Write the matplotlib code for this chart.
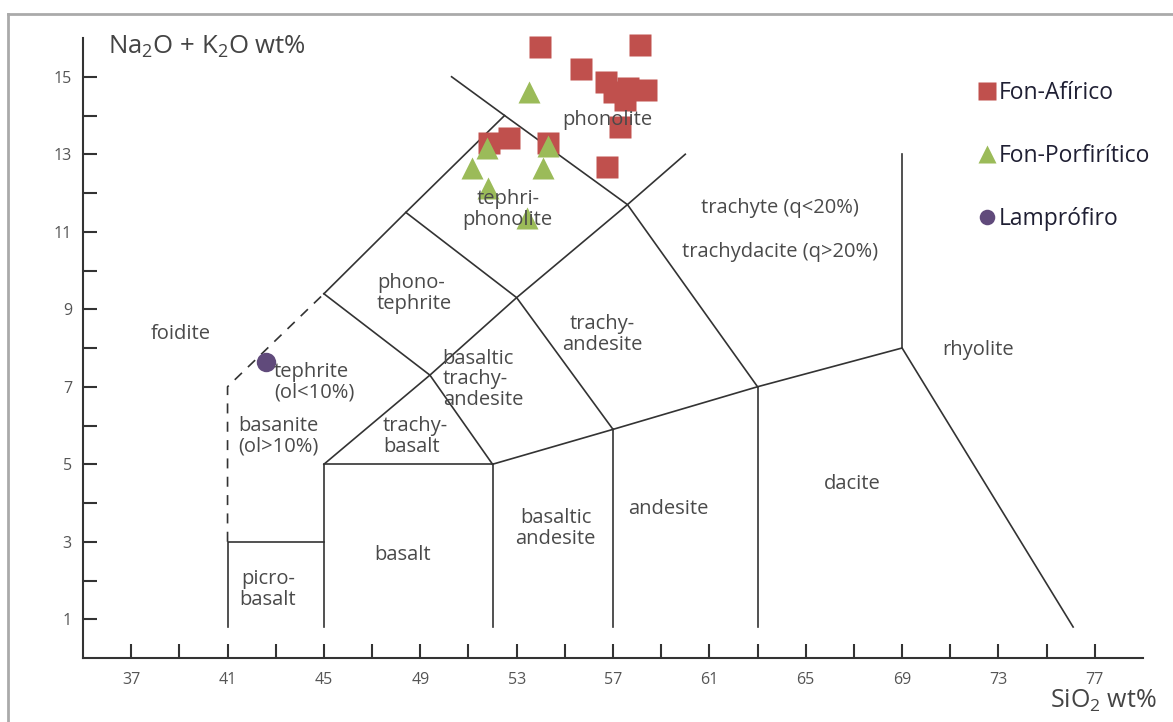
import matplotlib
matplotlib.use('Agg')
import matplotlib.pyplot as plt
from matplotlib.lines import Line2D

plt.rcParams['font.family'] = ['Open Sans', 'DejaVu Sans']
plt.rcParams['mathtext.fontset'] = 'custom'
plt.rcParams['mathtext.rm'] = 'Open Sans'
plt.rcParams['mathtext.it'] = 'Open Sans:italic'

# sample data (SiO2, Na2O+K2O)
afirico_si = [53.95, 58.14, 55.69, 56.73, 57.06, 57.48, 57.64, 58.35, 57.27, 56.77, 51.84, 52.67, 54.29]
afirico_alk = [15.77, 15.82, 15.21, 14.87, 14.61, 14.41, 14.72, 14.66, 13.71, 12.68, 13.30, 13.43, 13.30]

porf_si = [53.50, 51.76, 54.29, 51.13, 54.08, 51.80, 53.41]
porf_alk = [14.61, 13.17, 13.22, 12.65, 12.65, 12.14, 11.36]

lamp_si = [42.60]
lamp_alk = [7.65]

# TAS field boundaries (solid)
boundaries = [
    [(41, 0.8), (41, 3), (45, 3)],
    [(45, 0.8), (45, 5), (52, 5), (52, 0.8)],
    [(57, 0.8), (57, 5.9)],
    [(63, 0.8), (63, 7)],
    [(52, 5), (57, 5.9), (63, 7), (69, 8), (76.1, 0.8)],
    [(69, 8), (69, 13)],
    [(45, 5), (49.4, 7.3), (53, 9.3), (57.6, 11.7), (60.0, 13.0)],
    [(45, 9.4), (49.4, 7.3), (52, 5)],
    [(48.4, 11.5), (53, 9.3), (57, 5.9)],
    [(45, 9.4), (48.4, 11.5), (52.5, 14)],
    [(50.3, 15.0), (52.5, 14), (57.6, 11.7), (63, 7)],
]
dashed = [(41, 3), (41, 7), (45, 9.4)]

labels = [
    ('foidite', 39.07, 8.35, 'center'),
    ('tephrite\n(ol<10%)', 42.93, 7.11, 'left'),
    ('basanite\n(ol>10%)', 41.44, 5.72, 'left'),
    ('picro-\nbasalt', 42.68, 1.77, 'center'),
    ('basalt', 48.27, 2.65, 'center'),
    ('basaltic\nandesite', 54.62, 3.35, 'center'),
    ('andesite', 59.30, 3.84, 'center'),
    ('dacite', 66.93, 4.48, 'center'),
    ('rhyolite', 72.15, 7.96, 'center'),
    ('trachyte (q<20%)', 63.94, 11.62, 'center'),
    ('trachydacite (q>20%)', 63.94, 10.49, 'center'),
    ('trachy-\nandesite', 56.56, 8.35, 'center'),
    ('basaltic\ntrachy-\nandesite', 49.93, 7.19, 'left'),
    ('trachy-\nbasalt', 47.45, 5.72, 'left'),
    ('phono-\ntephrite', 47.2, 9.41, 'left'),
    ('tephri-\nphonolite', 52.63, 11.57, 'center'),
    ('phonolite', 56.77, 13.89, 'center'),
]

fig = plt.figure(figsize=(11.73, 7.22), dpi=100)
ax = fig.add_axes([83 / 1173, 1 - 658 / 722, 1060 / 1173, 620 / 722])

line_col = '#333333'
for seg in boundaries:
    xs, ys = zip(*seg)
    ax.plot(xs, ys, color=line_col, lw=1.2, solid_joinstyle='miter')
xs, ys = zip(*dashed)
ax.plot(xs, ys, color=line_col, lw=1.2, ls=(0, (6, 5)))

for txt, x, y, ha in labels:
    ax.text(x, y, txt, ha=ha, va='center', fontsize=14.5, color='#4a4a4a',
            linespacing=1.05, multialignment='left' if ha == 'left' else 'center')

ax.plot(afirico_si, afirico_alk, 's', color='#C0504D', ms=16, mec='none', label='Fon-Afírico',
        clip_on=False)
ax.plot(porf_si, porf_alk, '^', color='#9BBB59', ms=16, mec='none', label='Fon-Porfirítico',
        clip_on=False)
ax.plot(lamp_si, lamp_alk, 'o', color='#604A7B', ms=14, mec='none', label='Lamprófiro',
        clip_on=False)

ax.set_xlim(35, 79)
ax.set_ylim(0, 16)
ax.set_xticks(range(37, 78, 4))
ax.set_xticks(range(39, 77, 2), minor=True)
ax.set_yticks(range(1, 16, 2))
ax.set_yticks(range(2, 15, 2), minor=True)
ax.tick_params(which='both', direction='in', length=10, width=1.5, color=line_col,
               labelsize=11.5, labelcolor='#555555')
ax.tick_params(axis='x', pad=10)
ax.tick_params(axis='y', pad=8)
for s in ['top', 'right']:
    ax.spines[s].set_visible(False)
for s in ['left', 'bottom']:
    ax.spines[s].set_color(line_col)
    ax.spines[s].set_linewidth(1.5)

fig.text(108 / 1173, 1 - 47 / 722, r'Na$_2$O + K$_2$O wt%', fontsize=18.5, color='#444444',
         ha='left', va='center')
fig.text(1157 / 1173, 1 - 701 / 722, r'SiO$_2$ wt%', fontsize=18, color='#444444',
         ha='right', va='center')

leg = ax.legend(loc='upper left', bbox_to_anchor=(968 / 1173, 1 - 70 / 722),
                bbox_transform=fig.transFigure, frameon=False, fontsize=16.5,
                handlelength=0.7, handletextpad=0.15, labelspacing=1.7, borderpad=0,
                markerscale=0.8)
for t in leg.get_texts():
    t.set_color('#1f1f33')

# outer frame
fig.add_artist(Line2D([8 / 1173, 1.0], [1 - 14 / 722] * 2, color='#aaaaaa', lw=2))
fig.add_artist(Line2D([8 / 1173] * 2, [0, 1 - 14 / 722], color='#aaaaaa', lw=2))

fig.savefig('out.png', dpi=100)
